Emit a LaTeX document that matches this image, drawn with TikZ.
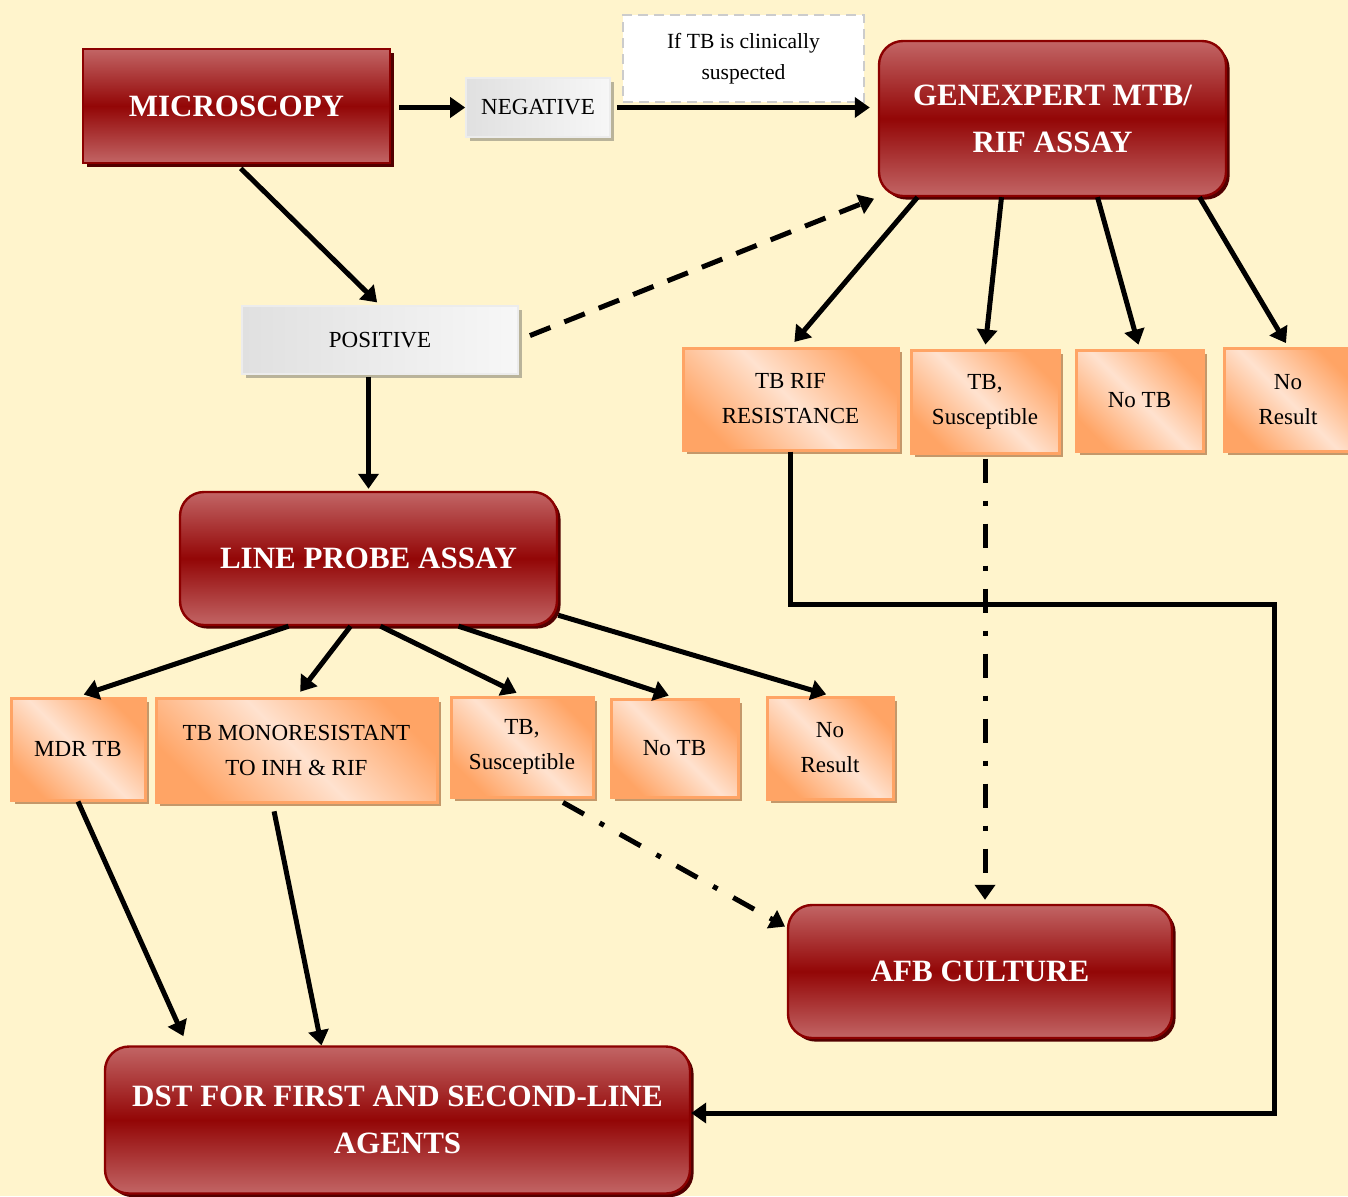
\documentclass[tikz,border=0pt]{standalone}
\usepackage{fontspec}
\setmainfont{Liberation Serif}
\usetikzlibrary{arrows.meta,shadows}
\definecolor{bgyellow}{HTML}{FFF4CC}
\definecolor{darkred}{HTML}{8B0000}
\definecolor{lightred}{HTML}{C26565}
\definecolor{midred}{HTML}{930606}
\definecolor{redshadow}{HTML}{520000}
\definecolor{orangeedge}{HTML}{FFA465}
\definecolor{peach}{HTML}{FFE2CF}
\definecolor{tanshadow}{HTML}{C4986A}
\definecolor{greyA}{HTML}{E0E0E0}
\definecolor{greyB}{HTML}{F7F7F7}
\definecolor{greyshadow}{HTML}{B9B39A}

\begin{document}
\begin{tikzpicture}[x=0.5pt,y=-0.5pt,
        redbox/.style={draw=darkred,line width=1.2pt,top color=lightred,bottom color=lightred,middle color=midred,text=white,font=\fontsize{15.5}{23.5}\selectfont\bfseries,align=center,inner sep=0pt,drop shadow={shadow xshift=1.8pt,shadow yshift=-1.8pt,fill=redshadow,opacity=1}},
        orbox/.style={draw=orangeedge,line width=1.5pt,top color=orangeedge,bottom color=orangeedge,middle color=peach,shading angle=-45,font=\fontsize{11.5}{17.5}\selectfont,align=center,inner sep=0pt,drop shadow={shadow xshift=1.8pt,shadow yshift=-1.8pt,fill=tanshadow,opacity=1}},
        greybox/.style={draw=gray!15,line width=0.8pt,left color=greyA,right color=greyB,font=\fontsize{11.5}{17.5}\selectfont,inner sep=0pt,drop shadow={shadow xshift=1.8pt,shadow yshift=-1.8pt,fill=greyshadow,opacity=1}},
        notebox/.style={draw=gray!40,line width=1.4pt,dash pattern=on 5pt off 3pt,fill=white,font=\fontsize{10.8}{15.5}\selectfont,align=center,inner sep=0pt},
        arr/.style={line width=2.5pt,-{Triangle[length=7.5pt,width=10pt]}},
        dasharr/.style={arr,dash pattern=on 11pt off 7.5pt},
        dotarr/.style={arr,dash pattern=on 12pt off 9pt on 2.5pt off 9pt}
      ]
      \fill[bgyellow] (0,0) rectangle (1348,1196);
      \useasboundingbox (0,0) rectangle (1348,1196);

      % top row
      \node[redbox,minimum width=153.5pt,minimum height=57pt] (micro) at (236.5,106) {MICROSCOPY};
      \node[greybox,minimum width=72pt,minimum height=29.5pt] (neg) at (538,107.5) {NEGATIVE};
      \node[notebox,minimum width=120.5pt,minimum height=43.5pt] (note) at (743.5,58.5) {If TB is clinically\\suspected};
      \node[redbox,rounded corners=12pt,minimum width=173.5pt,minimum height=77.5pt] (gx) at (1052.5,118.5) {GENEXPERT MTB/\\RIF ASSAY};
      \node[greybox,minimum width=138pt,minimum height=34pt] (pos) at (380,340) {POSITIVE};

      % genexpert results
      \node[orbox,minimum width=107.5pt,minimum height=51pt] (rif) at (790.5,399) {TB RIF\\RESISTANCE};
      \node[orbox,minimum width=74pt,minimum height=51.5pt] (gsus) at (985,401.5) {TB,\\Susceptible};
      \node[orbox,minimum width=63.5pt,minimum height=50.5pt] (gnotb) at (1139.5,400.5) {No TB};
      \node[orbox,minimum width=64pt,minimum height=51.5pt] (gnores) at (1288,399.5) {No\\Result};

      % line probe assay and results
      \node[redbox,rounded corners=12pt,minimum width=188.5pt,minimum height=66.5pt] (lpa) at (368.5,558.5) {LINE PROBE ASSAY};
      \node[orbox,minimum width=67pt,minimum height=51pt] (mdr) at (78,749) {MDR TB};
      \node[orbox,minimum width=140.5pt,minimum height=52pt] (mono) at (296.5,750) {TB MONORESISTANT\\TO INH \& RIF};
      \node[orbox,minimum width=71pt,minimum height=50pt] (lsus) at (522,747) {TB,\\Susceptible};
      \node[orbox,minimum width=63.5pt,minimum height=49pt] (lnotb) at (674.5,748) {No TB};
      \node[orbox,minimum width=63pt,minimum height=51pt] (lnores) at (830,748) {No\\Result};

      % final tests
      \node[redbox,rounded corners=12pt,minimum width=192pt,minimum height=66.5pt] (afb) at (980,971.5) {AFB CULTURE};
      \node[redbox,rounded corners=12pt,minimum width=292.5pt,minimum height=73.5pt] (dst) at (397.5,1120) {DST FOR FIRST AND SECOND-LINE\\AGENTS};
      \coordinate (turn) at (1274,604);

      % connectors
      \draw[arr,shorten <=4pt] (neg.west -| micro.east) -- (neg.west);
      \draw[arr,shorten <=3pt,shorten >=4pt] (neg.east) -- (neg.east -| gx.west);
      \draw[arr,shorten <=3pt,shorten >=2pt] (micro.south) -- (pos.north);
      \draw[dasharr,shorten <=6pt,shorten >=2pt] (pos.east) -- (gx.south west);
      \draw[arr,shorten <=1pt,shorten >=1pt] (lpa.north |- pos.south) -- (lpa.north);
      \draw[arr,shorten >=3pt] ([xshift=-67.5pt]gx.south) -- (rif.north);
      \draw[arr,shorten >=2pt] ([xshift=-25.5pt]gx.south) -- (gsus.north);
      \draw[arr,shorten >=2pt] ([xshift=22.5pt]gx.south) -- (gnotb.north);
      \draw[arr,shorten >=2pt] ([xshift=73.5pt]gx.south) -- (gnores.north);
      \draw[line width=2.5pt,-{Triangle[length=7.5pt,width=10pt]}] (rif.south) |- (turn) |- ([yshift=3.5pt]dst.east);
      \draw[dotarr,shorten <=2pt,shorten >=2pt] (gsus.south) -- (gsus.south |- afb.north);
      \draw[arr,shorten >=3pt] ([xshift=-40pt]lpa.south) -- (mdr.north);
      \draw[arr,shorten >=3pt] ([xshift=-9pt]lpa.south) -- (mono.north);
      \draw[arr,shorten >=3pt] ([xshift=6pt]lpa.south) -- (lsus.north);
      \draw[arr,shorten >=3pt] ([xshift=45pt]lpa.south) -- (lnotb.north);
      \draw[arr,shorten >=2pt] ([yshift=5.5pt]lpa.south east) -- (lnores.north);
      \draw[arr,shorten >=5pt] (mdr.south) -- ([xshift=-105pt]dst.north);
      \draw[arr,shorten <=4pt] ([xshift=-12pt]mono.south) -- ([xshift=-38pt]dst.north);
      \draw[dotarr,shorten <=4pt,shorten >=1pt] ([xshift=17pt]lsus.south) -- ([yshift=22pt]afb.west);
    \end{tikzpicture}
\end{document}
